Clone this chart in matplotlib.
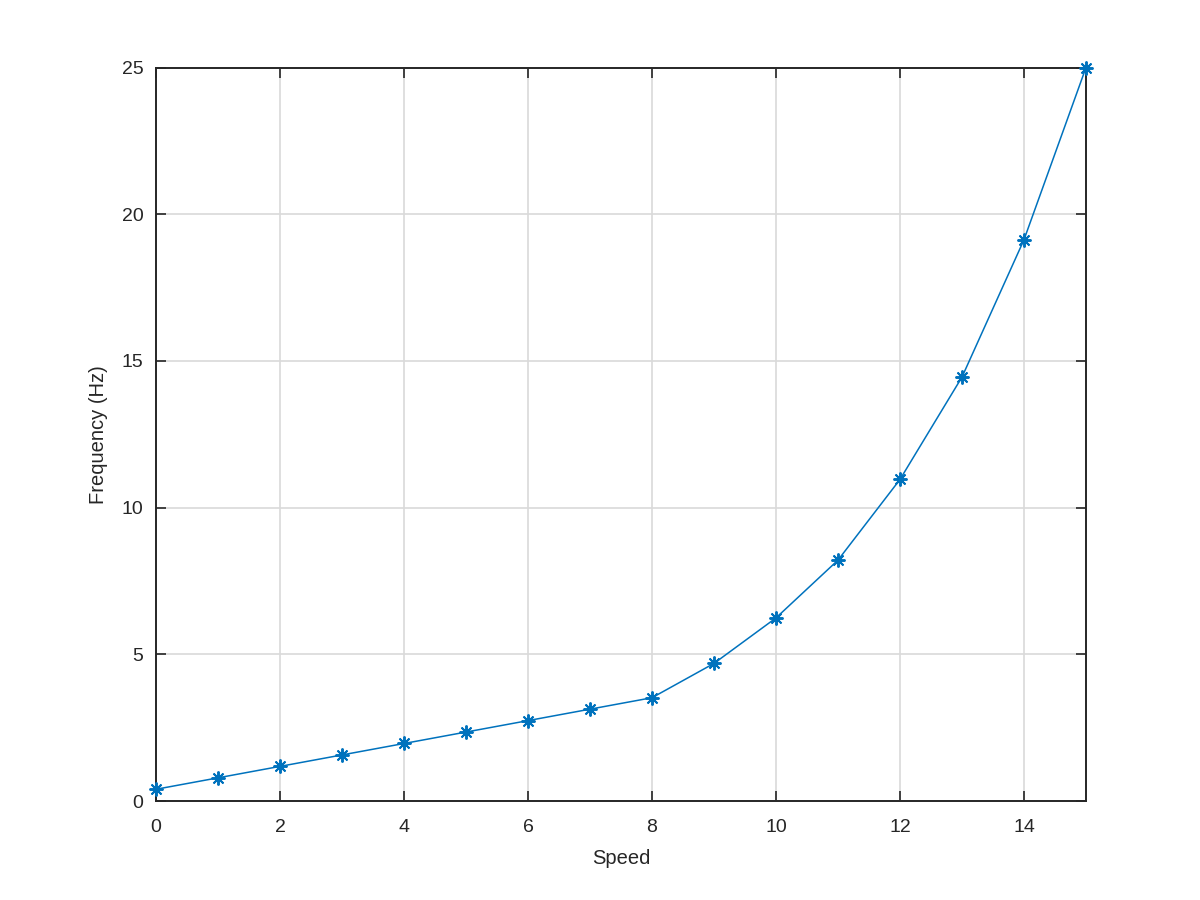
import matplotlib
matplotlib.use("Agg")
import matplotlib.pyplot as plt

speed = [0, 1, 2, 3, 4, 5, 6, 7, 8, 9, 10, 11, 12, 13, 14, 15]
frequency = [0.40, 0.79, 1.18, 1.57, 1.96, 2.35, 2.74, 3.13, 3.52,
             4.69, 6.24, 8.21, 10.96, 14.45, 19.13, 25.0]
xticks = [0, 2, 4, 6, 8, 10, 12, 14]
yticks = [0, 5, 10, 15, 20, 25]

plt.rcParams['font.family'] = ['Liberation Sans', 'DejaVu Sans']
axc = '#262626'
fig = plt.figure(figsize=(12, 9), dpi=100)
ax = fig.add_axes([0.13, 0.11, 0.775, 0.815])
ax.plot(speed, frequency, color='#0072BD', linewidth=1.1, marker=(8, 2, 0),
        markersize=10, markeredgewidth=1.4, clip_on=False, zorder=5)
ax.set_xlim(0, 15)
ax.set_ylim(0, 25)
ax.set_xticks(xticks)
ax.set_yticks(yticks)
ax.grid(True, color='#d9d9d9', linewidth=1.2)
ax.set_axisbelow(True)
ax.tick_params(direction='in', top=True, right=True, length=7, width=1.2,
               colors=axc, labelsize=14)
ax.tick_params(axis='x', pad=13)
ax.tick_params(axis='y', pad=9)
for s in ax.spines.values():
    s.set_color(axc)
    s.set_linewidth(1.4)
ax.set_xlabel('Speed', fontsize=14.5, color=axc, labelpad=9)
ax.set_ylabel('Frequency (Hz)', fontsize=14.5, color=axc, labelpad=10)
fig.savefig('out.png', dpi=100, facecolor='white')
